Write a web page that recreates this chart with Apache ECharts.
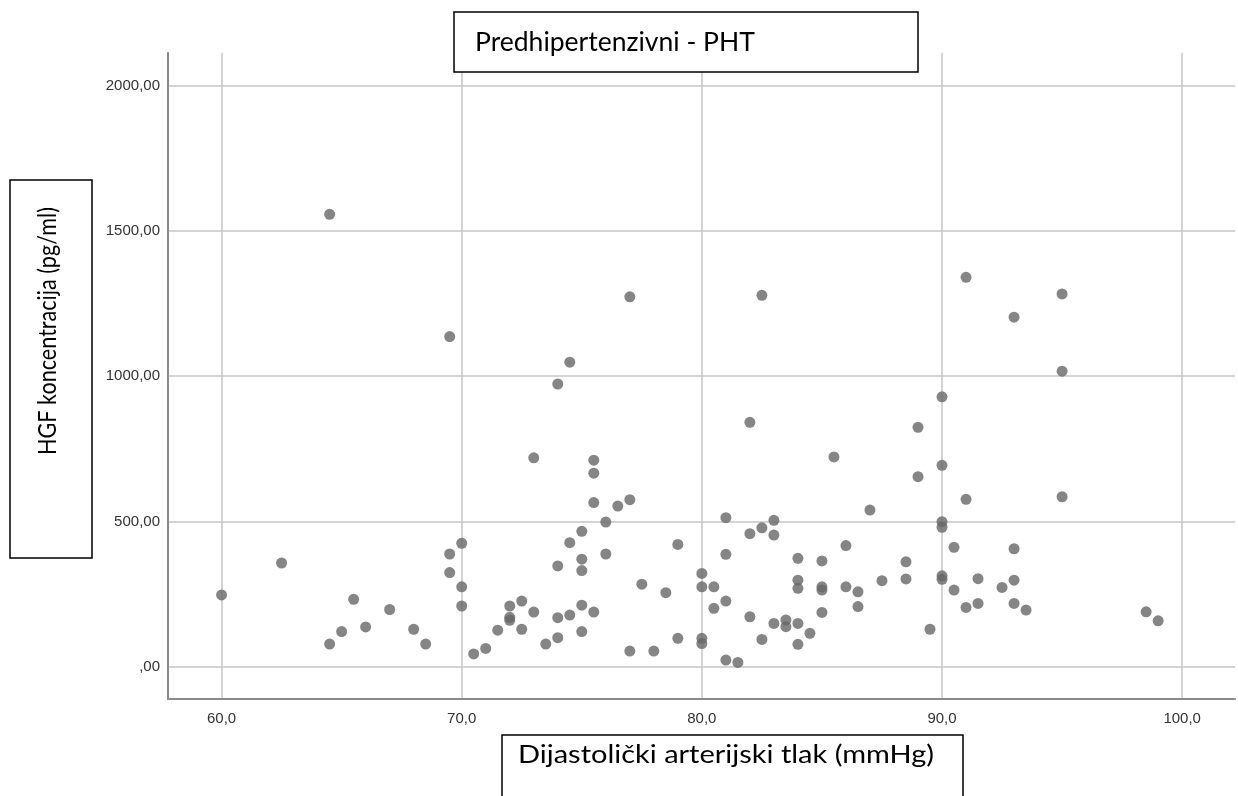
<!DOCTYPE html>
<html>
<head>
<meta charset="utf-8">
<script src="https://cdn.jsdelivr.net/npm/echarts@6/dist/echarts.min.js"></script>
<style>
  html, body { margin: 0; padding: 0; background: #fff; }
  #main { width: 1238px; height: 796px; }
</style>
</head>
<body>
<div id="main"></div>
<script>
// dijastolički tlak (mmHg) i HGF (pg/ml), očitano sa slike
const dbp = [
  60, 62.5, 64.5, 64.5, 65, 65.5, 66, 67, 68, 68.5,
  69.5, 69.5, 69.5, 70, 70, 70, 70.5, 71, 71.5, 72,
  72, 72, 72.5, 72.5, 73, 73, 73.5, 74, 74, 74,
  74, 74.5, 74.5, 74.5, 75, 75, 75, 75, 75, 75.5,
  75.5, 75.5, 75.5, 76, 76, 76.5, 77, 77, 77, 77.5,
  78, 78.5, 79, 79, 80, 80, 80, 80, 80.5, 80.5,
  81, 81, 81, 81, 81.5, 82, 82, 82, 82.5, 82.5,
  82.5, 83, 83, 83, 83.5, 83.5, 84, 84, 84, 84,
  84, 84.5, 85, 85, 85, 85, 85.5, 86, 86, 86.5,
  86.5, 87, 87.5, 88.5, 88.5, 89, 89, 89.5, 90, 90,
  90, 90, 90, 90, 90.5, 90.5, 91, 91, 91, 91.5,
  91.5, 92.5, 93, 93, 93, 93, 93.5, 95, 95, 95,
  98.5, 99
]
const hgf = [
  247, 357, 1557, 78, 121, 232, 137, 197, 129, 78,
  1136, 388, 324, 425, 275, 209, 44, 63, 126, 209,
  170, 160, 226, 129, 719, 188, 78, 973, 347, 169,
  100, 1048, 427, 178, 466, 370, 331, 212, 121, 711,
  666, 565, 188, 498, 388, 553, 1273, 575, 54, 284,
  54, 255, 421, 98, 321, 275, 98, 80, 275, 201,
  513, 387, 226, 23, 15, 841, 458, 172, 1278, 478,
  94, 504, 453, 149, 161, 138, 373, 298, 270, 149,
  77, 115, 364, 275, 264, 187, 722, 417, 275, 258,
  207, 539, 296, 361, 302, 824, 654, 129, 929, 693,
  499, 480, 313, 301, 411, 264, 1340, 576, 204, 303,
  218, 273, 1203, 406, 298, 218, 195, 1283, 1017, 585,
  189, 158
]
const xTicks = [60, 70, 80, 90, 100]
const yTicks = [0, 500, 1000, 1500, 2000]

const chart = echarts.init(document.getElementById('main'))

const gridLine = { show: true, lineStyle: { color: '#c6c6c6', width: 1.5 } }
const labelStyle = { color: '#333', fontFamily: 'Liberation Sans', fontSize: 15 }

const option = {
  backgroundColor: '#fff',
  animation: false,
  grid: { left: 168, right: 3, top: 53, bottom: 97 },
  xAxis: {
    type: 'value',
    min: 57.77,
    max: 102.2,
    axisLine: { show: true, onZero: false, lineStyle: { color: '#8a8a8a', width: 2 } },
    axisTick: { show: false, customValues: xTicks },
    axisLabel: {
      ...labelStyle,
      margin: 12,
      customValues: xTicks,
      formatter: v => v.toFixed(1).replace('.', ',')
    },
    splitLine: gridLine
  },
  yAxis: {
    type: 'value',
    min: -111,
    max: 2112,
    axisLine: { show: true, onZero: false, lineStyle: { color: '#8a8a8a', width: 2 } },
    axisTick: { show: false, customValues: yTicks },
    axisLabel: {
      ...labelStyle,
      margin: 8,
      customValues: yTicks,
      formatter: v => v === 0 ? ',00' : v.toFixed(2).replace('.', ',')
    },
    splitLine: gridLine
  },
  series: [
    {
      type: 'scatter',
      symbol: 'circle',
      symbolSize: 11,
      itemStyle: { color: '#666' },
      data: dbp.map((x, i) => [x, hgf[i]])
    }
  ],
  // okviri s naslovima
  graphic: [
    {
      type: 'rect',
      shape: { x: 454, y: 12, width: 464, height: 60 },
      style: { fill: '#fff', stroke: '#000', lineWidth: 1.5 },
      z: 100
    },
    {
      type: 'text',
      x: 475, y: 42,
      style: {
        text: 'Predhipertenzivni - PHT',
        font: '26.5px Lato',
        fill: '#000',
        textVerticalAlign: 'middle'
      },
      z: 101
    },
    {
      type: 'rect',
      shape: { x: 10, y: 180, width: 82, height: 378 },
      style: { fill: '#fff', stroke: '#000', lineWidth: 1.5 },
      z: 100
    },
    {
      type: 'text',
      x: 48, y: 331,
      rotation: Math.PI / 2,
      scaleX: 0.864,
      style: {
        text: 'HGF koncentracija (pg/ml)',
        font: '25px Lato',
        fill: '#000',
        textAlign: 'center',
        textVerticalAlign: 'middle'
      },
      z: 101
    },
    {
      type: 'rect',
      shape: { x: 502, y: 735, width: 461, height: 70 },
      style: { fill: '#fff', stroke: '#000', lineWidth: 1.5 },
      z: 100
    },
    {
      type: 'text',
      x: 518, y: 755,
      scaleX: 1.137,
      style: {
        text: 'Dijastolički arterijski tlak (mmHg)',
        font: '25.5px Lato',
        fill: '#000',
        textVerticalAlign: 'middle'
      },
      z: 101
    }
  ]
}

chart.setOption(option)
</script>
</body>
</html>
